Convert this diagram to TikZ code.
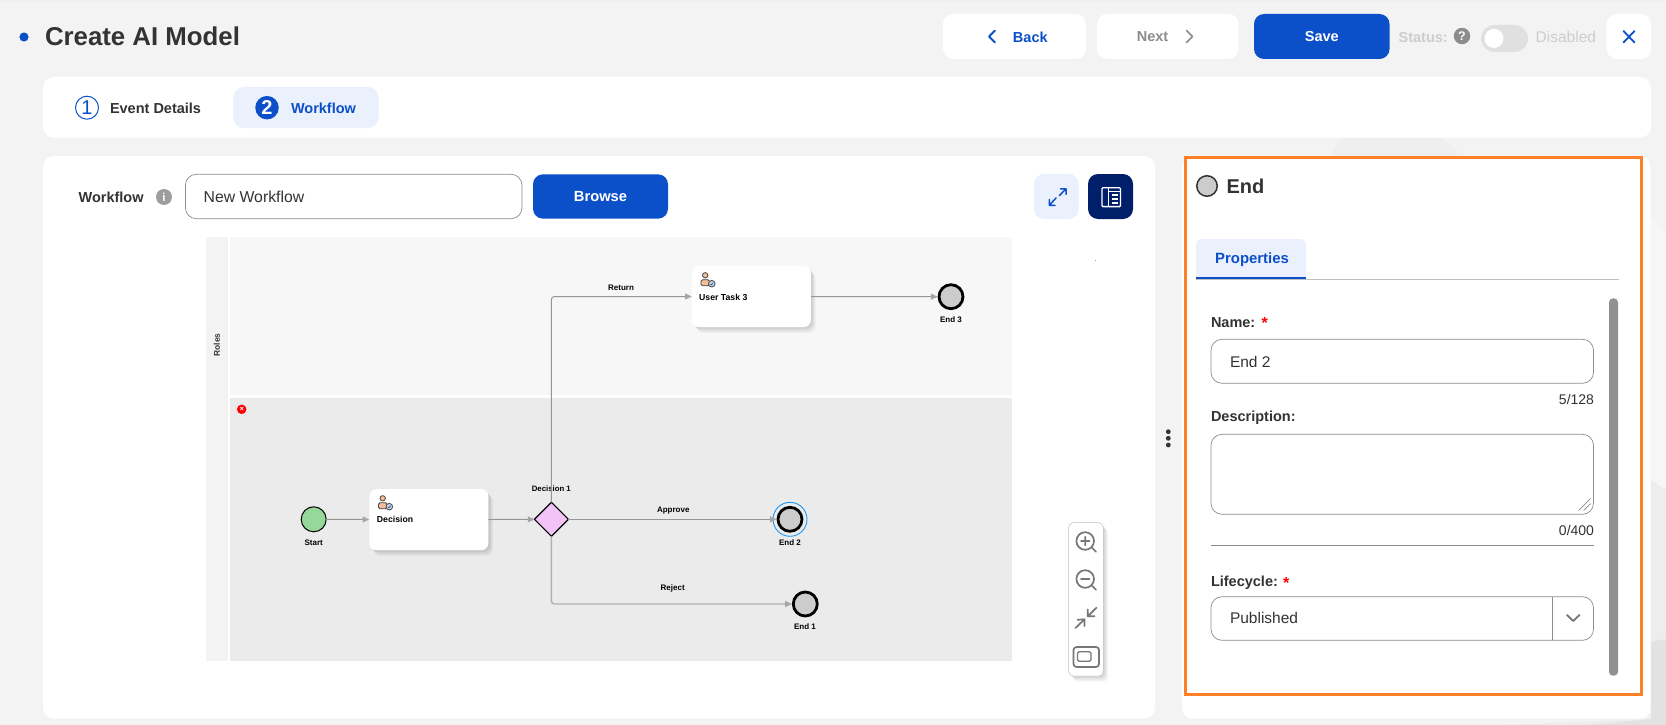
\documentclass[tikz,border=0pt]{standalone}
\usepackage{fontspec}
\setmainfont{Liberation Sans}
\usetikzlibrary{arrows.meta,shapes.geometric,shadows}
\newcommand\pxf[1]{\fontsize{#1}{#1}\selectfont}
\definecolor{pagebg}{HTML}{F3F3F3}
\definecolor{bgpoly}{HTML}{EFEFEF}
\definecolor{brand}{HTML}{0B50C8}
\definecolor{ink}{HTML}{333333}
\definecolor{softblue}{HTML}{EAF1FD}
\definecolor{navy}{HTML}{001F6B}
\definecolor{hilite}{HTML}{FF7F27}
\definecolor{edgegray}{HTML}{8C8C8C}
\definecolor{flowgray}{HTML}{969696}
\definecolor{tipgray}{HTML}{A6A6A6}
\definecolor{iconink}{HTML}{777777}
\definecolor{disabled}{HTML}{CDCDCD}
\tikzset{
  x=1pt,y=-1pt,
  sz/.style 2 args={minimum width=#1,minimum height=#2,inner sep=0pt,outer sep=0pt},
  panel/.style={fill=white,rounded corners=11,draw=none},
  uibtn/.style={fill=white,rounded corners=10,draw=none},
  field/.style={draw=edgegray,line width=0.7pt,fill=white,rounded corners=11},
  txt/.style={inner sep=0pt,outer sep=0pt,text=ink,font=\pxf{14.5}\bfseries},
  txtw/.style={txt,anchor=west},
  plain/.style={inner sep=0pt,outer sep=0pt,text=ink,font=\pxf{15.5}},
  softshadow/.style={
    general shadow={shadow xshift=5pt,shadow yshift=-6pt,fill=black,opacity=.025},
    general shadow={shadow xshift=4pt,shadow yshift=-5pt,fill=black,opacity=.035},
    general shadow={shadow xshift=3pt,shadow yshift=-3.5pt,fill=black,opacity=.045},
    general shadow={shadow xshift=2pt,shadow yshift=-2pt,fill=black,opacity=.05}},
  taskbox/.style={sz={119}{61},fill=white,rounded corners=7,softshadow},
  tasktext/.style={inner sep=0pt,anchor=west,font=\pxf{8.7}\bfseries,text=black},
  flowlabel/.style={inner sep=0pt,font=\pxf{8}\bfseries,text=black},
  startev/.style={circle,sz={25}{25},draw=black,line width=1pt,fill={rgb,255:red,149;green,216;blue,154}},
  endev/.style={circle,sz={24}{24},draw=black,line width=2.8pt,fill={rgb,255:red,204;green,204;blue,204},outer sep=1.4pt},
  gateway/.style={diamond,aspect=1,sz={34}{34},draw=black,line width=1.2pt,fill={rgb,255:red,243;green,195;blue,247}},
  flow/.style={draw=flowgray,line width=1pt,rounded corners=3,-{Triangle[length=6.7pt,width=6pt,color=tipgray]}},
  flowlight/.style={flow,draw={rgb,255:red,176;green,176;blue,176},line width=1.4pt},
  toolicon/.style={draw=iconink,line width=1.7pt,line cap=round,line join=round},
  pics/usericon/.style={code={
    \draw[draw=ink!90,line width=.8pt,fill={rgb,255:red,245;green,190;blue,150}] (-2.8,-4.7) circle (2.7);
    \draw[draw=ink!90,line width=.8pt,fill={rgb,255:red,245;green,190;blue,150},rounded corners=1.5] (-7,-0.3) rectangle (1.5,5.8);
    \draw[draw=ink!90,line width=.8pt,fill={rgb,255:red,190;green,210;blue,240}] (3.8,3.7) circle (3.3);
    \draw[draw=ink!90,line width=.6pt] (2.5,4) -- (3.5,4.8) -- (5.1,2.7);
  }},
}
\begin{document}
\begin{tikzpicture}
\useasboundingbox (0,0) rectangle (1666,725);
% page background
\fill[pagebg] (0,0) rectangle (1666,725);
\fill[bgpoly] (0,0) rectangle (1666,2);
\fill[bgpoly] (1330,156) -- (1341,137) -- (1439,137) -- (1465,156) -- cycle;
\fill[black!3.5] (1651,217) -- (1666,232) -- (1666,490) -- (1651,480) -- cycle;
\fill[black!7] (1651,480) -- (1666,490) -- (1666,640) -- (1651,642) -- cycle;
\fill[black!7] (1500,725) -- (1651,719) -- (1651,725) -- cycle;
\fill[black!11.5] (1651,642) -- (1666,639) -- (1666,725) -- (1590,725) -- (1651,719) -- cycle;
% title row
\fill[brand] (24,37) circle (4.6);
\node[txtw,font=\pxf{25.8}\bfseries] (title) at (45,36.5) {Create AI Model};
\node[uibtn,sz={143}{45}] (backbtn) at (1014.5,36.5) {};
\node[txt,text=brand] (backtxt) at (1030.3,37) {Back};
\draw[brand,line width=1.8pt,line join=round,line cap=round] (995,30.5) -- (989,36.5) -- (995,42.5);
\node[uibtn,sz={141.6}{45}] (nextbtn) at (1167.8,36.5) {};
\node[txt,text=edgegray] (nexttxt) at (1152.5,37) {Next};
\draw[edgegray,line width=1.6pt,line join=round,line cap=round] (1186.5,30.5) -- (1192.5,36.5) -- (1186.5,42.5);
\node[uibtn,sz={135.5}{45},fill=brand,text=white,font=\pxf{14.5}\bfseries] (savebtn) at (1321.75,36.5) {Save};
\node[txtw,text=disabled] (status) at (1398.6,37.5) {Status:};
\node[circle,fill=edgegray,sz={16.5}{16.5},text=white,font=\pxf{12.5}\bfseries] (statushelp) at (1462,36) {?};
\node[sz={47}{27},fill=black!12,rounded corners=13.5] (toggle) at (1504.5,38.5) {};
\node[circle,sz={19}{19},fill=white] (knob) at (1494,38.4) {};
\node[plain,anchor=west,text=disabled] (disabledtxt) at (1535.7,36.7) {Disabled};
\node[uibtn,sz={44.3}{45}] (closebtn) at (1628.85,36.5) {};
\draw[brand,line width=1.8pt,line cap=round] (1623.5,31) -- (1634.5,42.5) (1634.5,31) -- (1623.5,42.5);
% tabs
\node[panel,sz={1608}{60.7}] (tabbar) at (847,107.35) {};
\node[sz={145.6}{41},fill=softblue,rounded corners=11] (tabactive) at (305.8,107.5) {};
\node[circle,draw=brand,line width=1pt,sz={23}{23},text=brand,font=\pxf{20}] (stepone) at (87,107.7) {1};
\node[txtw] (steponetxt) at (110,108.4) {Event Details};
\node[circle,fill=brand,sz={23.5}{23.5},text=white,font=\pxf{20}\bfseries] (steptwo) at (267,107.7) {2};
\node[txtw,text=brand] (steptwotxt) at (291,108.4) {Workflow};
% panels
\node[panel,sz={1112}{562.7}] (mainpanel) at (599,437.35) {};
\node[panel,sz={468.7}{562.7}] (sidepanel) at (1416.35,437.35) {};
% workflow row
\node[txtw] (wflabel) at (78.6,197) {Workflow};
\node[circle,fill=edgegray!85,sz={16}{16},text=white,font=\pxf{11.5}\bfseries] (wfinfo) at (164,197) {i};
\node[field,sz={336.6}{44.4}] (wfinput) at (353.7,196.5) {};
\node[plain,anchor=west,font=\pxf{15.8}] (wfinputtxt) at (203.6,197) {New Workflow};
\node[uibtn,sz={135}{44.4},fill=brand,text=white,font=\pxf{14.7}\bfseries] (browse) at (600.5,196.5) {Browse};
\node[uibtn,sz={44.6}{45},fill=softblue] (expandbtn) at (1056.3,196.5) {};
\draw[brand,line width=1.5pt,line cap=round,line join=round] (1059.5,195.5) -- (1066,188.8) (1060.5,188.8) -- (1066,188.8) -- (1066,194.3) (1056,198) -- (1049.3,205.3) (1049.3,199.5) -- (1049.3,205.3) -- (1055,205.3);
\node[uibtn,sz={45}{45},fill=navy] (layoutbtn) at (1110.5,196.5) {};
\draw[white,line width=1.3pt,rounded corners=1] (1102,187.8) rectangle (1120.5,206.6);
\draw[white,line width=1.3pt] (1108.5,187.8) -- (1108.5,206.6) (1108.5,191.5) -- (1120.5,191.5) (1112,195) -- (1118,195) (1112,199) -- (1118,199) (1112,203) -- (1118,203);
% lanes
\node[sz={22}{424},fill={rgb,255:red,243;green,243;blue,243}] (rolesstrip) at (217,449) {};
\node[sz={781.7}{158},fill={rgb,255:red,247;green,247;blue,247}] (lanetop) at (620.85,316) {};
\node[sz={781.7}{263.3},fill={rgb,255:red,235;green,235;blue,235}] (lanebot) at (620.85,529.35) {};
\node[rotate=90,inner sep=0pt,font=\pxf{8.4}\bfseries,text=ink] (roleslabel) at (216.8,345) {Roles};
\node[circle,sz={9.5}{9.5},fill=red,text=white,font=\pxf{7.5}\bfseries] (laneerr) at (241.7,409.3) {×};
\fill[black!40] (1094.5,260) rectangle (1095.8,261.4);
% flow nodes
\node[startev] (start) at (313.7,519.3) {};
\node[flowlabel] (startlbl) at (313.7,542.6) {Start};
\node[taskbox] (decision) at (428.8,519.7) {};
\pic at (385.5,503) {usericon};
\node[tasktext] (decisiontxt) at (376.7,519.3) {Decision};
\node[gateway] (gate) at (551.4,519.3) {};
\node[flowlabel,font=\pxf{7.8}\bfseries] (gatelbl) at (551.3,488.6) {Decision 1};
\node[taskbox] (task3) at (751.3,296.5) {};
\pic at (708,280) {usericon};
\node[tasktext] (task3txt) at (699,297.3) {User Task 3};
\node[circle,sz={34}{34},draw={rgb,255:red,30;green,150;blue,243},line width=.9pt] (end2ring) at (790,519.3) {};
\node[endev] (end2) at (790,519.3) {};
\node[flowlabel] (end2lbl) at (790,542.6) {End 2};
\node[endev] (end3) at (951,296.7) {};
\node[flowlabel] (end3lbl) at (951,319.6) {End 3};
\node[endev] (end1) at (805.3,604) {};
\node[flowlabel] (end1lbl) at (805,626.6) {End 1};
\node[flowlabel] (lblreturn) at (621,287.6) {Return};
\node[flowlabel] (lblapprove) at (673.3,510.9) {Approve};
\node[flowlabel] (lblreject) at (672.7,588.9) {Reject};
\path[flow] (start) -- (decision);
\path[flow] (decision) -- (gate);
\path[flow] (gate) -- (end2);
\path[flow] (gate.north) |- (task3.west);
\path[flow] (task3) -- (end3);
\path[flowlight] (gate.south) |- (end1.west);
% zoom toolbar
\node[sz={34.6}{153.3},fill=white,rounded corners=4.5,draw=black!25,line width=.5pt,softshadow] (toolbar) at (1086,599.35) {};
\draw[toolicon] (1085.2,541) circle (8.8) (1081,541) -- (1089.4,541) (1085.2,536.8) -- (1085.2,545.2) (1091.7,547.5) -- (1096,551.8);
\draw[toolicon] (1085.2,579) circle (8.8) (1081,579) -- (1089.4,579) (1091.7,585.5) -- (1096,589.8);
\draw[toolicon] (1075.5,628) -- (1084.5,619.3) (1077.5,619.8) -- (1084.5,619.3) -- (1084.5,626) (1096.5,607.7) -- (1087.7,616.3) (1087.7,609.5) -- (1087.7,616.3) -- (1094.5,616.3);
\draw[toolicon,rounded corners=3] (1073.5,647) rectangle (1099,667);
\draw[draw=iconink,line width=1.3pt,rounded corners=1.5] (1077.5,651.7) rectangle (1091,661.3);
% side panel
\fill[white] (1184,157) rectangle (1642,695);
\node[circle,draw=ink,line width=1.5pt,sz={20.5}{20.5},fill=black!20] (endglyph) at (1207,186) {};
\node[txtw,font=\pxf{20}\bfseries] (endhead) at (1226.5,186) {End};
\fill[softblue,rounded corners=6] (1196,239) rectangle (1306,285);
\fill[white] (1190,279) rectangle (1625,292);
\node[txt,text=brand,font=\pxf{14.9}\bfseries] (proptab) at (1252,259.5) {Properties};
\draw[black!25,line width=.9pt] (1196,279.3) -- (1618.6,279.3);
\draw[brand,line width=2pt] (1196,278) -- (1306,278);
\node[sz={9}{377.4},fill=black!43,rounded corners=4] (scrollbar) at (1613.5,487) {};
\node[txtw] (namelbl) at (1211,322.7) {Name:};
\node[inner sep=0pt,text=red,font=\pxf{16}\bfseries] (namestar) at (1264.7,323) {*};
\node[field,sz={382.5}{44}] (nameinput) at (1402.25,361.3) {};
\node[plain,anchor=west] (nametxt) at (1230,361.7) {End 2};
\node[plain,anchor=east,font=\pxf{14}] (namecount) at (1594,399) {5/128};
\node[txtw] (desclbl) at (1211,418) {Description:};
\node[field,sz={382.5}{80}] (descinput) at (1402.25,474.3) {};
\draw[edgegray,line width=.7pt] (1578.5,510.5) -- (1590.5,498.5) (1583.5,510.5) -- (1590.5,503.5);
\node[plain,anchor=east,font=\pxf{14}] (desccount) at (1594,530) {0/400};
\draw[edgegray,line width=.7pt] (1211,545.7) -- (1594,545.7);
\node[txtw] (lifelbl) at (1211,582.7) {Lifecycle:};
\node[inner sep=0pt,text=red,font=\pxf{16}\bfseries] (lifestar) at (1286.3,583) {*};
\node[field,sz={382.5}{43.6}] (lifeinput) at (1402.25,618.5) {};
\draw[edgegray,line width=.7pt] (1552.7,596.7) -- (1552.7,640.3);
\node[plain,anchor=west] (lifetxt) at (1230,618.3) {Published};
\draw[black!55,line width=1.8pt,line cap=round,line join=round] (1567,615) -- (1573.2,621) -- (1579.5,615);
\draw[hilite,line width=3pt] (1185.5,157.5) rectangle (1641.5,694.5);
\fill[ink] (1168.3,431.7) circle (2.4) (1168.3,438.3) circle (2.4) (1168.3,445) circle (2.4);
\end{tikzpicture}
\end{document}
